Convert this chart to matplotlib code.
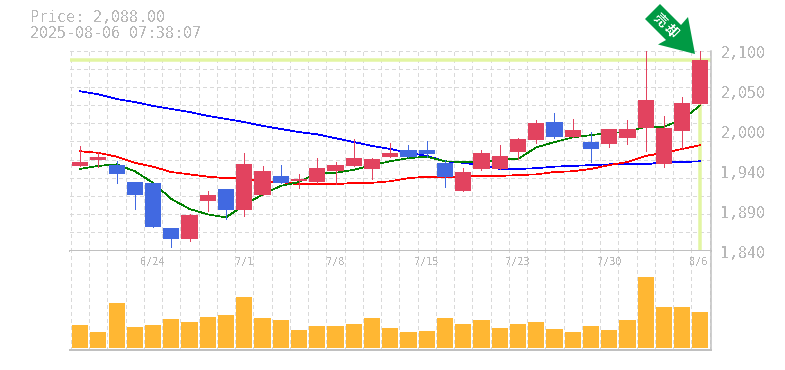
import numpy as np
import matplotlib
matplotlib.use("Agg")
import matplotlib.pyplot as plt
from matplotlib.patches import Polygon
from matplotlib.transforms import Affine2D

W, H = 785, 370

# Daily candles
opens  = [1950, 1958, 1951, 1929, 1928, 1869, 1855, 1904, 1920, 1893, 1912, 1937,
          1930, 1929, 1943, 1950, 1946, 1962, 1971, 1971, 1954, 1917, 1946, 1946,
          1968, 1984, 2007, 1988, 1981, 1978, 1986, 1999, 1952, 1995, 2030]
highs  = [1976, 1968, 1956, 1929, 1928, 1869, 1888, 1917, 1920, 1967, 1950, 1951,
          1939, 1960, 1955, 1985, 1960, 1980, 1977, 1982, 1958, 1947, 1971, 1977,
          1986, 2010, 2019, 2011, 1994, 1998, 2010, 2100, 2015, 2040, 2100]
lows   = [1950, 1949, 1928, 1894, 1871, 1844, 1852, 1891, 1881, 1885, 1912, 1928,
          1921, 1928, 1926, 1950, 1933, 1962, 1962, 1962, 1922, 1917, 1945, 1946,
          1959, 1980, 1986, 1988, 1955, 1974, 1978, 1969, 1948, 1972, 2030]
closes = [1955, 1962, 1939, 1912, 1871, 1855, 1886, 1912, 1893, 1952, 1943, 1928,
          1933, 1947, 1951, 1960, 1959, 1967, 1962, 1965, 1936, 1942, 1967, 1963,
          1985, 2006, 1988, 1997, 1972, 1998, 1998, 2036, 1999, 2032, 2088]

# Moving averages
ma_short = [1946, 1950, 1952, 1943, 1928, 1907, 1894, 1887, 1883, 1899, 1913, 1924,
            1929, 1941, 1941, 1945, 1951, 1956, 1960, 1962, 1956, 1955, 1955, 1958,
            1959, 1974, 1981, 1987, 1990, 1993, 1994, 2001, 2001, 2010, 2029]
ma_mid   = [1969, 1967, 1962, 1954, 1949, 1942, 1939, 1936, 1934, 1934, 1929, 1929,
            1926, 1926, 1926, 1928, 1928, 1930, 1934, 1936, 1936, 1936, 1937, 1937,
            1938, 1939, 1942, 1943, 1946, 1951, 1955, 1963, 1967, 1972, 1977]
ma_long  = [2047, 2043, 2037, 2033, 2028, 2024, 2020, 2015, 2011, 2007, 2002, 1998,
            1994, 1991, 1986, 1981, 1976, 1972, 1967, 1963, 1956, 1954, 1951, 1946,
            1946, 1947, 1949, 1950, 1951, 1952, 1952, 1952, 1955, 1955, 1956]

# Volume, relative units
volumes = [23, 16, 45, 21, 23, 29, 26, 31, 33, 51, 30, 28, 18, 22, 22, 24, 30, 20,
           16, 17, 30, 24, 28, 20, 24, 26, 19, 16, 22, 18, 28, 71, 41, 41, 36]

price_now = 2088
price_ticks = [2100, 2048, 1996, 1944, 1892, 1840]
price_labels = ["2,100", "2,050", "2,000", "1,940", "1,890", "1,840"]
date_pos = [4, 9, 14, 19, 24, 29, 33.9]
date_labels = ["6/24", "7/1", "7/8", "7/15", "7/23", "7/30", "8/6"]

UP = "#e2435f"
DOWN = "#4169e1"
GRID = "#d9d9d9"
AXIS = "#c0c0c0"
TEXT = "#b8b8b8"
MARK = "#e2f5a2"
VOL = "#ffb733"
ARROW = "#009a44"
PX = 0.72  # one pixel in points

plt.rcParams["font.family"] = ["DejaVu Sans Mono"]
plt.rcParams["text.antialiased"] = False

fig = plt.figure(figsize=(W / 100, H / 100), dpi=100)


def panel(left, top, right, bottom):
    return fig.add_axes([left / W, 1 - bottom / H, (right - left) / W, (bottom - top) / H])


ax = panel(70, 50.5, 710.5, 250.5)
ax_vol = panel(70, 250.5, 710.5, 349.5)

x = np.arange(len(closes))
for a in (ax, ax_vol):
    a.set_xlim(-0.55, 34.55)
    a.set_xticks([])
    a.set_yticks([])
    a.set_axisbelow(True)
    for b in np.arange(-0.5, 35):
        a.axvline(b, color=GRID, lw=PX, ls=(0, (3, 3)), zorder=0, antialiased=False)
    for s in a.spines.values():
        s.set_visible(False)

# Price panel
ax.set_ylim(1840, 2100)
for g in np.linspace(1840, 2100, 12)[1:]:
    ax.axhline(g, color=GRID, lw=PX, ls=(0, (3, 3)), zorder=0, clip_on=False, antialiased=False)

ax.axhline(price_now, color=MARK, lw=PX * 3.5, zorder=1)
ax.vlines(x[-1], 1840, price_now, color=MARK, lw=PX * 3.5, zorder=1)

ax.plot(x, ma_long, color="#0000ff", lw=PX * 0.7, zorder=2, antialiased=False)
ax.plot(x, ma_mid, color="#ff0000", lw=PX * 0.7, zorder=2, antialiased=False)
ax.plot(x, ma_short, color="#008000", lw=PX * 0.7, zorder=2, antialiased=False)

for i in x:
    col = UP if closes[i] >= opens[i] else DOWN
    ax.vlines(i, lows[i], highs[i], color=col, lw=PX, zorder=3, antialiased=False)
    ax.bar(i, abs(closes[i] - opens[i]), bottom=min(opens[i], closes[i]), width=0.88,
           color=col, linewidth=0, zorder=3)

ax.axvline(34.55, color=AXIS, lw=PX * 1.5, zorder=4, clip_on=False)
ax.axhline(1840, color=AXIS, lw=PX * 2, zorder=4, clip_on=False)

for val, lab in zip(price_ticks, price_labels):
    ax.annotate(lab, xy=(1, val), xycoords=("axes fraction", "data"), xytext=(10, -3),
                textcoords="offset pixels", ha="left", va="center",
                fontsize=10.8, color=TEXT, annotation_clip=False)

# Volume panel
ax_vol.set_ylim(-1.5, 97.5)
ax_vol.bar(x, volumes, width=0.88, color=VOL, linewidth=0, zorder=3)
ax_vol.axvline(34.55, color=AXIS, lw=PX * 1.5, zorder=4, clip_on=False)
ax_vol.axhline(-1.5, color=AXIS, lw=PX * 2, zorder=4, clip_on=False)
for p, lab in zip(date_pos, date_labels):
    ax_vol.text(p, 85.5, lab, ha="center", va="center", fontsize=7.4, color=TEXT, zorder=5)

# Header
fig.text(30 / W, 1 - 18 / H, "Price: 2,088.00", fontsize=10.8, color=TEXT, va="center")
fig.text(30 / W, 1 - 33 / H, "2025-08-06 07:38:07", fontsize=10.8, color=TEXT, va="center")

# Signal arrow
to_px = Affine2D().scale(1 / W, -1 / H).translate(0, 1) + fig.transFigure
arrow_pts = [(660, 4), (645, 19), (666, 40), (658, 44.5), (695, 54), (688, 17), (681, 25)]
fig.add_artist(Polygon(arrow_pts, closed=True, facecolor=ARROW, edgecolor="none",
                       transform=to_px, zorder=10))
fig.text(660 / W, 1 - 20 / H, "売", fontsize=9.5, color="white", rotation=-45, ha="center",
         va="center", family=["Noto Sans CJK JP"], fontweight="bold", zorder=11)
fig.text(671 / W, 1 - 31 / H, "却", fontsize=9.5, color="white", rotation=-45, ha="center",
         va="center", family=["Noto Sans CJK JP"], fontweight="bold", zorder=11)

fig.savefig("out.png", dpi=100, facecolor="white")
